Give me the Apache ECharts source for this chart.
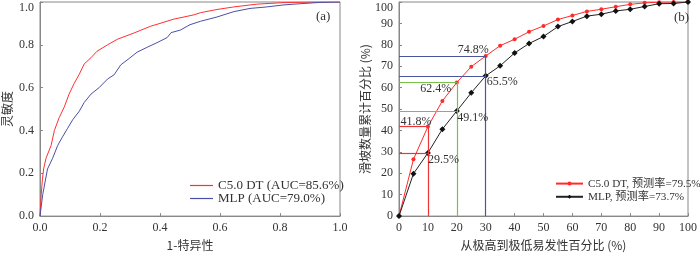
<!DOCTYPE html>
<html><head><meta charset="utf-8">
<script src="https://cdn.jsdelivr.net/npm/echarts@6/dist/echarts.min.js"></script>
<style>html,body{margin:0;padding:0;background:#fff}#c{width:700px;height:256px}</style>
</head><body><div id="c"></div>
<script>
// ROC curves (panel a)
var rocC50X = [0,0.004,0.008,0.012,0.02,0.037,0.048,0.064,0.081,0.097,0.114,0.13,0.147,0.17,0.19,0.225,0.258,0.313,0.369,0.40,0.446,0.513,0.535,0.59,0.646,0.723,0.81,0.92,1.0];
var rocC50Y = [0,0.10,0.17,0.22,0.27,0.33,0.40,0.46,0.51,0.57,0.62,0.66,0.71,0.74,0.77,0.80,0.826,0.855,0.887,0.90,0.92,0.94,0.95,0.965,0.977,0.99,0.997,1.0,1.0];
var rocMlpX = [0,0.009,0.025,0.042,0.059,0.075,0.092,0.109,0.131,0.147,0.17,0.197,0.225,0.247,0.269,0.297,0.324,0.358,0.39,0.424,0.437,0.468,0.50,0.535,0.59,0.646,0.70,0.756,0.81,0.867,0.933,1.0];
var rocMlpY = [0,0.10,0.22,0.27,0.33,0.37,0.41,0.45,0.49,0.53,0.57,0.60,0.64,0.66,0.706,0.736,0.766,0.789,0.81,0.834,0.857,0.869,0.894,0.91,0.93,0.955,0.97,0.977,0.986,0.992,0.998,1.0];
// Success rate curves (panel b)
var pctX = [0,5,10,15,20,25,30,35,40,45,50,55,60,65,70,75,80,85,90,95,100];
var rateC50 = [0,26.5,41.8,53.8,62.4,69.8,74.8,79.6,82.6,86.1,88.8,91.8,93.7,95.6,96.6,97.8,98.9,99.6,99.9,100,100];
var rateMlp = [0,19.8,29.5,40.6,49.1,57.6,65.5,70.2,76.2,80.6,83.9,88.5,90.9,93.4,94.3,95.8,96.6,97.9,99.2,99.3,100];
var refX = [10,20,30];
var refC50 = [41.8,62.4,74.8];
var refMlp = [29.5,49.1,65.5];
var refColors = ['#ee3333','#77c04a','#4a55a0'];

var serif = "'Liberation Serif','Noto Sans CJK SC',serif";
var txt = '#333';
function zip(a,b){return a.map(function(v,i){return [v,b[i]];});}

var markLines = [], markPts = [];
var offC50 = [[-12,-5],[-21,6],[-12.5,-6]];
var offMlp = [[15.5,7],[16,7],[16.5,6]];
refX.forEach(function(x,i){
  var ls = {color:refColors[i],width:1.2,type:'solid'};
  markLines.push([{coord:[0,refC50[i]],lineStyle:ls},{coord:[x,refC50[i]]}]);
  markLines.push([{coord:[0,refMlp[i]],lineStyle:ls},{coord:[x,refMlp[i]]}]);
  markLines.push([{coord:[x,0],lineStyle:ls},{coord:[x,refC50[i]]}]);
  markPts.push({coord:[x,refC50[i]],value:refC50[i],label:{offset:offC50[i]}});
  markPts.push({coord:[x,refMlp[i]],value:refMlp[i],label:{offset:offMlp[i]}});
});

var axisCommon = {
  axisLine:{show:true,lineStyle:{color:'#888',width:1}},
  axisTick:{show:true,inside:true,length:3,lineStyle:{color:'#888'}},
  splitLine:{show:false},
  axisLabel:{color:txt,fontFamily:serif,fontSize:12,margin:6},
  nameTextStyle:{color:txt,fontFamily:'Noto Sans CJK SC',fontSize:12}
};
function ax(o){var r=JSON.parse(JSON.stringify(axisCommon));for(var k in o){if(typeof o[k]==='object'&&r[k]&&!Array.isArray(o[k])){for(var j in o[k])r[k][j]=o[k][j];}else r[k]=o[k];}return r;}

var option = {
  animation:false,
  backgroundColor:'#fff',
  grid:[
    {left:39,right:360,top:2,bottom:33,show:true,borderColor:'#888',borderWidth:1},
    {left:399,right:2,top:2,bottom:36,show:true,borderColor:'#888',borderWidth:1}
  ],
  xAxis:[
    ax({type:'value',gridIndex:0,min:0,max:1,interval:0.2,name:'1-特异性',nameLocation:'middle',nameGap:20,
      axisLabel:{formatter:function(v){return v.toFixed(1);}}}),
    ax({type:'value',gridIndex:1,min:0,max:100,interval:10,name:'从极高到极低易发性百分比 (%)',nameLocation:'middle',nameGap:21})
  ],
  yAxis:[
    ax({type:'value',gridIndex:0,min:0,max:1,interval:0.2,name:'灵敏度',nameLocation:'middle',nameGap:27,
      axisLabel:{formatter:function(v){return v.toFixed(1);},verticalAlignMaxLabel:'top'}}),
    ax({type:'value',gridIndex:1,min:0,max:100,interval:10,name:'滑坡数量累计百分比 (%)',nameLocation:'middle',nameGap:19,
      axisLabel:{verticalAlignMaxLabel:'top'}})
  ],
  legend:[
    {orient:'vertical',left:185,top:174,itemWidth:23,itemHeight:1.2,itemGap:0,icon:'rect',
     textStyle:{color:txt,fontFamily:serif,fontSize:13},
     data:['C5.0 DT (AUC=85.6%)','MLP (AUC=79.0%)']},
    {orient:'vertical',left:550,top:173,itemWidth:27,itemHeight:5,itemGap:2,
     textStyle:{color:txt,fontFamily:serif,fontSize:11.2},
     data:['C5.0 DT, 预测率=79.5%','MLP, 预测率=73.7%']}
  ],
  graphic:[
    {type:'text',left:316,top:10,style:{text:'(a)',font:"13px 'Liberation Serif'",fill:txt}},
    {type:'text',left:674,top:11,style:{text:'(b)',font:"13px 'Liberation Serif'",fill:txt}}
  ],
  series:[
    {name:'C5.0 DT (AUC=85.6%)',type:'line',xAxisIndex:0,yAxisIndex:0,data:zip(rocC50X,rocC50Y),
     showSymbol:false,symbol:'none',lineStyle:{color:'#ff3030',width:1},itemStyle:{color:'#ff3030'}},
    {name:'MLP (AUC=79.0%)',type:'line',xAxisIndex:0,yAxisIndex:0,data:zip(rocMlpX,rocMlpY),
     showSymbol:false,symbol:'none',lineStyle:{color:'#4a4fa8',width:1},itemStyle:{color:'#4a4fa8'}},
    {name:'C5.0 DT, 预测率=79.5%',type:'line',xAxisIndex:1,yAxisIndex:1,data:zip(pctX,rateC50),
     symbol:'circle',symbolSize:4,lineStyle:{color:'#ff2a2a',width:1},itemStyle:{color:'#ff2a2a'},z:3,
     markLine:{silent:true,symbol:'none',label:{show:false},animation:false,data:markLines},
     markPoint:{symbol:'circle',symbolSize:0,
       label:{show:true,position:'inside',color:txt,fontFamily:serif,fontSize:12,formatter:function(p){return p.value.toFixed(1)+'%';}},
       data:markPts}},
    {name:'MLP, 预测率=73.7%',type:'line',xAxisIndex:1,yAxisIndex:1,data:zip(pctX,rateMlp),
     symbol:'diamond',symbolSize:6,lineStyle:{color:'#222',width:1},itemStyle:{color:'#111'},z:4}
  ]
};
var chart = echarts.init(document.getElementById('c'),null,{renderer:'canvas'});
chart.setOption(option);
</script></body></html>
